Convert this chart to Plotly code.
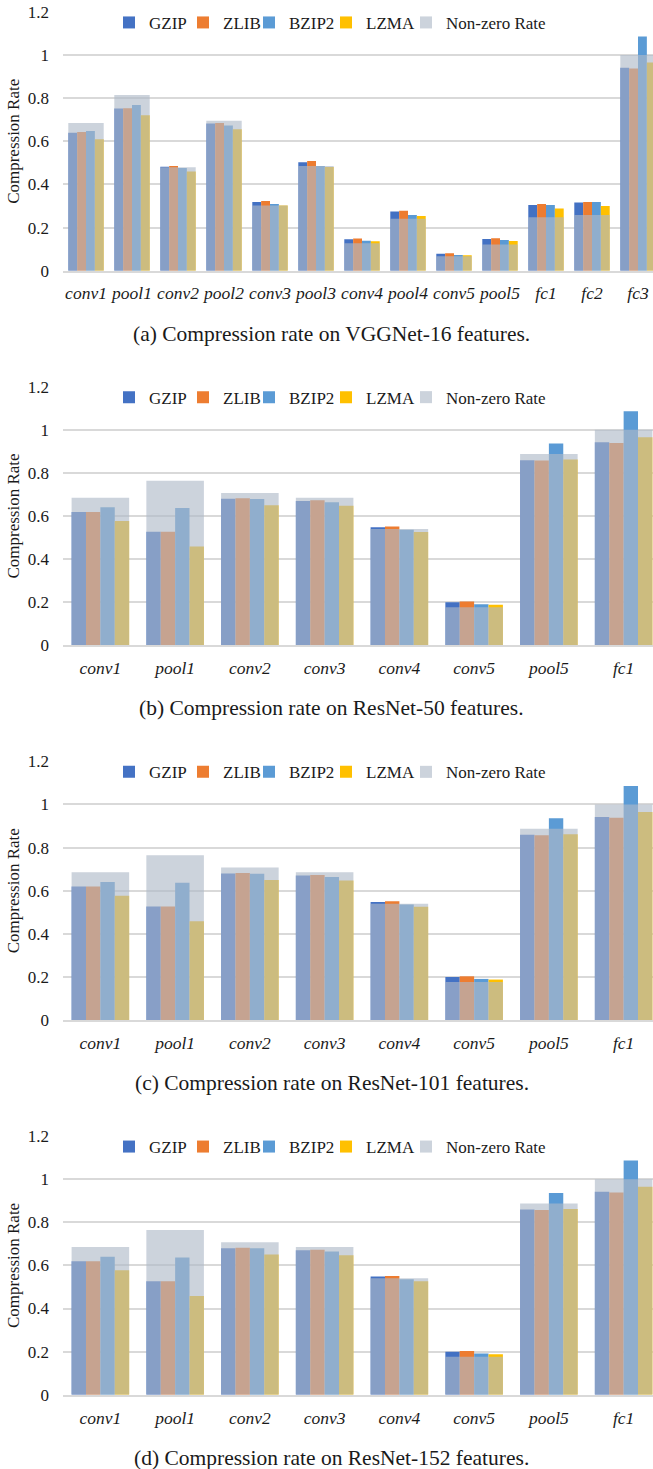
import plotly.graph_objects as go

# ---------------- data ----------------
series_names = ["GZIP", "ZLIB", "BZIP2", "LZMA"]
series_colors = ["#4472C4", "#ED7D31", "#5B9BD5", "#FFC000"]
nz_name = "Non-zero Rate"

vgg_layers = ["conv1", "pool1", "conv2", "pool2", "conv3", "pool3", "conv4",
              "pool4", "conv5", "pool5", "fc1", "fc2", "fc3"]
vgg_gzip = [0.640, 0.752, 0.482, 0.682, 0.319, 0.503, 0.146, 0.274, 0.079, 0.147, 0.305, 0.316, 0.941]
vgg_zlib = [0.643, 0.753, 0.486, 0.685, 0.323, 0.509, 0.149, 0.278, 0.081, 0.150, 0.309, 0.319, 0.938]
vgg_bzip2 = [0.648, 0.768, 0.476, 0.673, 0.309, 0.486, 0.139, 0.258, 0.073, 0.142, 0.305, 0.318, 1.086]
vgg_lzma = [0.610, 0.721, 0.460, 0.656, 0.302, 0.481, 0.136, 0.254, 0.072, 0.138, 0.288, 0.300, 0.965]
vgg_nonzero = [0.685, 0.815, 0.480, 0.695, 0.302, 0.486, 0.127, 0.241, 0.067, 0.122, 0.248, 0.258, 1.000]

res_layers = ["conv1", "pool1", "conv2", "conv3", "conv4", "conv5", "pool5", "fc1"]
res_gzip = [0.619, 0.527, 0.680, 0.670, 0.548, 0.200, 0.859, 0.942]
res_zlib = [0.619, 0.527, 0.682, 0.673, 0.551, 0.203, 0.857, 0.938]
res_bzip2 = [0.640, 0.637, 0.679, 0.664, 0.536, 0.191, 0.936, 1.086]
res_lzma = [0.577, 0.458, 0.650, 0.647, 0.526, 0.188, 0.862, 0.965]
res_nonzero = [0.685, 0.764, 0.707, 0.685, 0.540, 0.177, 0.887, 1.000]

y_ticks = [0, 0.2, 0.4, 0.6, 0.8, 1.0, 1.2]
y_ticktext = ["0", "0.2", "0.4", "0.6", "0.8", "1", "1.2"]

panels = [
    dict(cats=vgg_layers, vals=[vgg_gzip, vgg_zlib, vgg_bzip2, vgg_lzma], nz=vgg_nonzero,
         caption="(a) Compression rate on VGGNet-16 features."),
    dict(cats=res_layers, vals=[res_gzip, res_zlib, res_bzip2, res_lzma], nz=res_nonzero,
         caption="(b) Compression rate on ResNet-50 features."),
    dict(cats=res_layers, vals=[res_gzip, res_zlib, res_bzip2, res_lzma], nz=res_nonzero,
         caption="(c) Compression rate on ResNet-101 features."),
    dict(cats=res_layers, vals=[res_gzip, res_zlib, res_bzip2, res_lzma], nz=res_nonzero,
         caption="(d) Compression rate on ResNet-152 features."),
]

# ---------------- layout helpers ----------------
W, H = 653, 1469
FONT = "Liberation Serif"
TXT = "#1a1a1a"
GRID = "#d9d9d9"

def py(pix):       # pixel from top -> paper fraction
    return 1 - pix / H

def px(pix):       # pixel from left -> paper fraction
    return pix / W

group_w = 0.77
bar_w = group_w / 4
base0 = 270.7
step = 374.7
plot_h = 258.8
left_px = 63
full_plot_w = 598          # the original axes run past the right edge of the picture
# legend entry widths (px) so the swatches sit where the reference has them
legend_widths = [29, 21, 32, 35, 110]

fig = go.Figure()
layout = dict(width=W, height=H, margin=dict(l=0, r=0, t=0, b=0, autoexpand=False),
              barmode="overlay", plot_bgcolor="white", paper_bgcolor="white",
              font=dict(family=FONT, size=17, color=TXT), annotations=[])

for p, panel in enumerate(panels):
    k = "" if p == 0 else str(p + 1)
    xa, ya = "x" + k, "y" + k
    lg = "legend" + k
    bottom = base0 + p * step
    top = bottom - plot_h
    for s, (name, color, vals) in enumerate(zip(series_names, series_colors, panel["vals"])):
        fig.add_trace(go.Bar(
            x=panel["cats"], y=vals, name=name, xaxis=xa, yaxis=ya,
            width=bar_w, offset=-group_w / 2 + s * bar_w,
            marker=dict(color=color, line=dict(width=0)),
            legend=lg, showlegend=True, legendwidth=legend_widths[s]))
    fig.add_trace(go.Bar(
        x=panel["cats"], y=panel["nz"], name=nz_name, xaxis=xa, yaxis=ya,
        width=group_w, offset=-group_w / 2,
        marker=dict(color="rgb(175,186,201)", line=dict(width=0)), opacity=0.635,
        legend=lg, showlegend=True, legendwidth=legend_widths[4]))

    n = len(panel["cats"])
    cat_px = full_plot_w / n
    x_hi = -0.5 + (W - left_px) / cat_px
    layout["xaxis" + k] = dict(
        domain=[px(left_px), 1], anchor=ya, type="category", automargin=False,
        range=[-0.5, x_hi], showgrid=False, zeroline=False,
        showline=True, linecolor=GRID, linewidth=1.5, ticks="",
        tickfont=dict(family=FONT, size=17.5, color=TXT, style="italic"),
        ticklabelstandoff=6, ticklabeloverflow="allow")
    layout["yaxis" + k] = dict(
        domain=[py(bottom), py(top)], anchor=xa, range=[0, 1.2], automargin=False,
        tickvals=y_ticks, ticktext=y_ticktext,
        showgrid=True, gridcolor=GRID, gridwidth=1.5, zeroline=False,
        showline=False, ticks="", ticklabelstandoff=13, ticklabeloverflow="allow",
        tickfont=dict(family=FONT, size=17, color=TXT),
        title=dict(text="Compression Rate", font=dict(family=FONT, size=17, color=TXT),
                   standoff=3))
    layout[lg] = dict(
        orientation="h", x=px(109), xanchor="left", y=py(top + 11), yanchor="middle",
        font=dict(family=FONT, size=17, color=TXT), bgcolor="rgba(0,0,0,0)",
        traceorder="normal", itemwidth=30, tracegroupgap=0)
    layout["annotations"].append(dict(
        text=panel["caption"], xref="paper", yref="paper", x=px(331.5), y=py(bottom + 63),
        xanchor="center", yanchor="middle", showarrow=False,
        font=dict(family=FONT, size=21.5, color=TXT)))

fig.update_layout(**layout)
fig.write_html("out.html",
               config={"displayModeBar": False},
               post_script="document.body.style.margin='0';document.body.style.padding='0';")
